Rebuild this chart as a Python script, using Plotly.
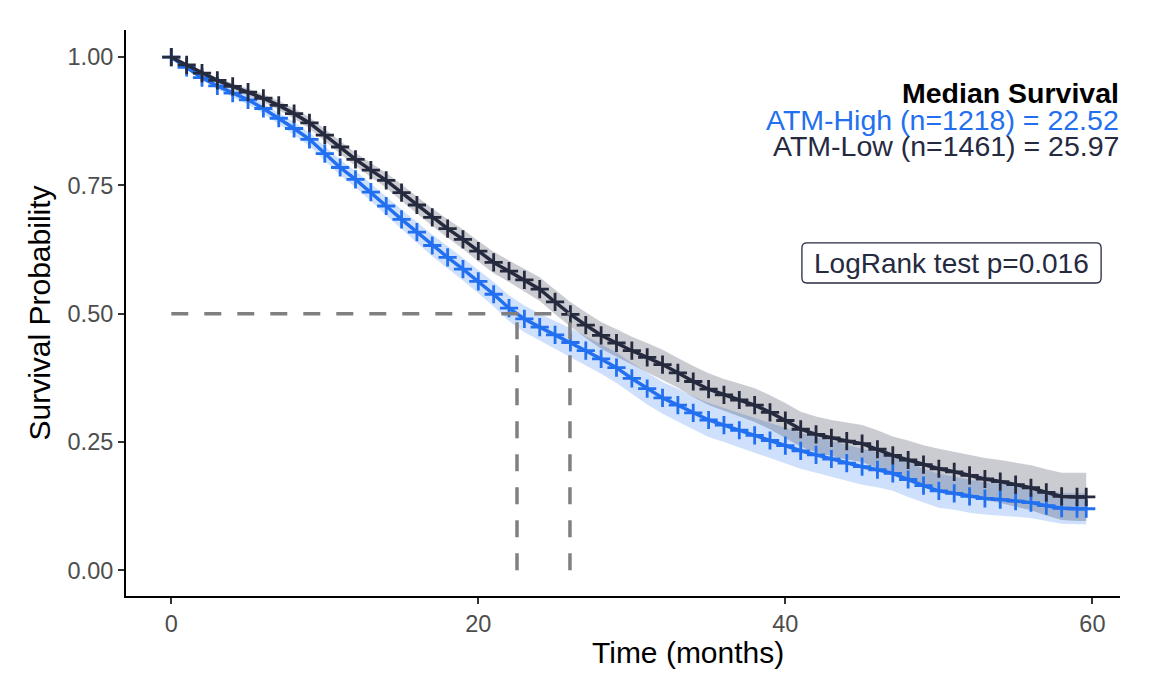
import plotly.graph_objects as go

months = [0, 1, 2, 3, 4, 5, 6, 7, 8, 9,
          10, 11, 12, 13, 14, 15, 16, 17, 18, 19,
          20, 21, 22, 23, 24, 25, 26, 27, 28, 29,
          30, 31, 32, 33, 34, 35, 36, 37, 38, 39,
          40, 41, 42, 43, 44, 45, 46, 47, 48, 49,
          50, 51, 52, 53, 54, 55, 56, 57, 58, 59,
          59.6]

surv_high = [1.000, 0.980, 0.960, 0.944, 0.930, 0.917, 0.900, 0.881, 0.861, 0.840,
             0.812, 0.785, 0.762, 0.737, 0.710, 0.684, 0.659, 0.633, 0.610, 0.587,
             0.563, 0.538, 0.511, 0.490, 0.474, 0.459, 0.444, 0.428, 0.412, 0.395,
             0.374, 0.354, 0.336, 0.322, 0.307, 0.293, 0.283, 0.273, 0.263, 0.253,
             0.243, 0.233, 0.225, 0.217, 0.209, 0.202, 0.196, 0.189, 0.177, 0.165,
             0.155, 0.150, 0.144, 0.140, 0.138, 0.135, 0.132, 0.126, 0.121, 0.120,
             0.120]

surv_low = [1.000, 0.985, 0.969, 0.955, 0.943, 0.932, 0.920, 0.906, 0.890, 0.872,
            0.848, 0.825, 0.801, 0.780, 0.760, 0.736, 0.712, 0.688, 0.666, 0.645,
            0.622, 0.600, 0.583, 0.566, 0.548, 0.523, 0.499, 0.478, 0.458, 0.443,
            0.428, 0.415, 0.401, 0.385, 0.368, 0.353, 0.342, 0.332, 0.322, 0.308,
            0.292, 0.275, 0.265, 0.258, 0.252, 0.247, 0.236, 0.224, 0.215, 0.206,
            0.198, 0.192, 0.185, 0.178, 0.173, 0.167, 0.161, 0.152, 0.144, 0.143,
            0.143]

# half width of the 95% confidence band
ci_half_high = [0.000, 0.003, 0.005, 0.006, 0.008, 0.009, 0.010, 0.011, 0.012, 0.013,
                0.014, 0.015, 0.016, 0.017, 0.018, 0.019, 0.020, 0.021, 0.022, 0.022,
                0.023, 0.024, 0.025, 0.026, 0.026, 0.027, 0.028, 0.028, 0.029, 0.030,
                0.030, 0.031, 0.031, 0.032, 0.032, 0.033, 0.033, 0.034, 0.034, 0.034,
                0.035, 0.035, 0.035, 0.035, 0.035, 0.035, 0.034, 0.034, 0.034, 0.033,
                0.033, 0.032, 0.032, 0.031, 0.031, 0.030, 0.030, 0.030, 0.030, 0.030,
                0.030]

ci_half_low = [0.000, 0.002, 0.004, 0.005, 0.006, 0.007, 0.008, 0.009, 0.010, 0.011,
               0.012, 0.013, 0.013, 0.014, 0.015, 0.016, 0.017, 0.017, 0.018, 0.019,
               0.020, 0.021, 0.021, 0.022, 0.023, 0.024, 0.024, 0.025, 0.026, 0.027,
               0.027, 0.028, 0.029, 0.029, 0.030, 0.031, 0.031, 0.032, 0.033, 0.033,
               0.034, 0.034, 0.035, 0.035, 0.036, 0.036, 0.037, 0.037, 0.038, 0.038,
               0.039, 0.039, 0.040, 0.041, 0.042, 0.043, 0.044, 0.045, 0.046, 0.047,
               0.047]

group_names = ["ATM-High", "ATM-Low"]
group_n = [1218, 1461]
median_surv = [22.52, 25.97]
logrank_p = 0.016

x_ticks = [0, 20, 40, 60]
y_ticks = [0, 0.25, 0.5, 0.75, 1]

BLUE = "#2270F0"
DARK = "#262A3F"
FILLS = ["rgba(34,112,240,0.22)", "rgba(38,42,63,0.24)"]
FONT = "Liberation Sans"

groups = [
    (group_names[0], surv_high, ci_half_high, BLUE, FILLS[0]),
    (group_names[1], surv_low, ci_half_low, DARK, FILLS[1]),
]

fig = go.Figure()

# confidence ribbons first
for name, surv, half, color, fill in groups:
    upper = [min(1.0, s + h) for s, h in zip(surv, half)]
    lower = [max(0.0, s - h) for s, h in zip(surv, half)]
    fig.add_trace(go.Scatter(x=months, y=upper, mode="lines",
                             line=dict(width=0), hoverinfo="skip", showlegend=False))
    fig.add_trace(go.Scatter(x=months, y=lower, mode="lines", fill="tonexty",
                             fillcolor=fill, line=dict(width=0),
                             hoverinfo="skip", showlegend=False))

# survival curves with censor marks
for name, surv, half, color, fill in groups:
    fig.add_trace(go.Scatter(
        x=months, y=surv, mode="lines+markers", name=name,
        line=dict(color=color, width=3.5),
        marker=dict(symbol="cross-thin", size=13, color=color,
                    line=dict(color=color, width=2.8)),
        showlegend=False,
    ))

# median survival guide lines
dash_style = dict(color="#808080", width=3.5, dash="17px,16px")
fig.add_trace(go.Scatter(x=[0, max(median_surv)], y=[0.5, 0.5], mode="lines",
                         line=dash_style, showlegend=False, hoverinfo="skip"))
for m in median_surv:
    fig.add_trace(go.Scatter(x=[m, m], y=[0, 0.5], mode="lines",
                             line=dash_style, showlegend=False, hoverinfo="skip"))

annotations = [
    dict(text="<b>Median Survival</b>", x=1.0, y=0.888, font=dict(color="black", size=28.5)),
    dict(text=f"{group_names[0]} (n={group_n[0]}) = {median_surv[0]:.2f}", x=1.0, y=0.841,
         font=dict(color=BLUE, size=28.5)),
    dict(text=f"{group_names[1]} (n={group_n[1]}) = {median_surv[1]:.2f}", x=1.0, y=0.795,
         font=dict(color=DARK, size=28.5)),
]
for a in annotations:
    a.update(xref="paper", yref="paper", xanchor="right", yanchor="middle",
             showarrow=False, borderpad=0)

annotations.append(dict(
    text=f"LogRank test p={logrank_p}", x=0.8305, y=0.588, xref="paper", yref="paper",
    xanchor="center", yanchor="middle", showarrow=False,
    font=dict(color=DARK, size=28),
))

# x axis title sits right of the panel centre in the reference
annotations.append(dict(
    text="Time (months)", x=0.565, y=-0.099, xref="paper", yref="paper",
    xanchor="center", yanchor="middle", showarrow=False,
    font=dict(color="black", size=30),
))

# rounded box around the log-rank label (paper coords)
x0, x1, y0, y1 = 0.680, 0.981, 0.553, 0.624
rx, ry = 5 / 994, 5 / 566
box_path = (
    f"M {x0 + rx},{y0} L {x1 - rx},{y0} Q {x1},{y0} {x1},{y0 + ry} "
    f"L {x1},{y1 - ry} Q {x1},{y1} {x1 - rx},{y1} "
    f"L {x0 + rx},{y1} Q {x0},{y1} {x0},{y1 - ry} "
    f"L {x0},{y0 + ry} Q {x0},{y0} {x0 + rx},{y0} Z"
)

# the page adds an 8px body margin, so margins are trimmed to keep the plot area in place
fig.update_layout(
    width=1152, height=687,
    margin=dict(l=118, r=40, t=22, b=99),
    plot_bgcolor="white", paper_bgcolor="white",
    font=dict(family=FONT, color="black"),
    annotations=annotations,
    shapes=[dict(type="path", path=box_path, xref="paper", yref="paper",
                 line=dict(color=DARK, width=1.3), fillcolor="rgba(255,255,255,0)")],
    showlegend=False,
)

axis_common = dict(
    showgrid=False, zeroline=False, showline=True, linecolor="black", linewidth=2,
    ticks="outside", ticklen=6, tickwidth=1.5, tickcolor="#333333",
    tickfont=dict(size=23.5, color="#4D4D4D", family=FONT),
)
fig.update_xaxes(range=[-2.95, 61.8], tickvals=x_ticks, **axis_common)
fig.update_yaxes(range=[-0.05, 1.053], tickvals=y_ticks, tickformat=".2f",
                 title=dict(text="Survival Probability", font=dict(size=30), standoff=8),
                 **axis_common)

fig.write_html("out.html")
